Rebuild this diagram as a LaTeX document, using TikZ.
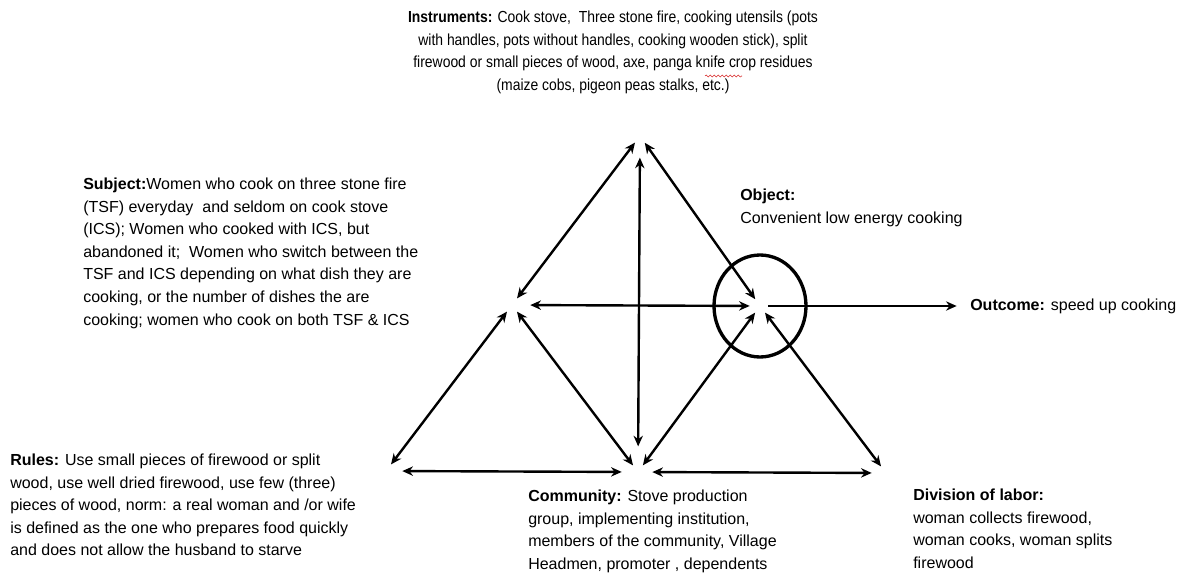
\documentclass[tikz,border=0pt]{standalone}
\usepackage{fontspec}
\setmainfont{Liberation Sans}
\newfontfamily\narrowfont[FakeStretch=0.87]{Liberation Sans}
\usepackage{tikz}
\usetikzlibrary{arrows.meta, positioning, calc, decorations.pathmorphing}
\definecolor{mydark}{RGB}{0,0,0}
\definecolor{myred}{RGB}{215,40,40}
\tikzset{
  vertex/.style={circle, minimum size=12pt, inner sep=0pt},
  notetext/.style={inner sep=0pt, anchor=north west, align=left, text=mydark, font=\fontsize{12}{16.9}\selectfont},
  biarrow/.style={{Stealth[length=8pt,width=7pt]}-{Stealth[length=8pt,width=7pt]}, line width=1.8pt, color=mydark},
  arrow/.style={-{Stealth[length=8pt,width=7pt]}, line width=1.8pt, color=mydark}
}

\begin{document}
\begin{tikzpicture}[x=0.75pt, y=-0.75pt]
  \useasboundingbox (0,0) rectangle (1195,588);

  % Corners of the triangles
  \node[vertex] (instr) at (640,136) {};
  \node[vertex] (subj) at (512,305) {};
  \node[vertex] (obj) at (760,306) {};
  \node[vertex] (rules) at (386,471) {};
  \node[vertex] (comm) at (638,472) {};
  \node[vertex] (div) at (886,473) {};

  % Texts
  \node[notetext, anchor=north, align=center, font=\narrowfont\fontsize{12}{16.9}\selectfont] (instrtxt) at (613,11) {\textbf{Instruments:} Cook stove,\ \ Three stone fire, cooking utensils (pots\\with handles, pots without handles, cooking wooden stick), split\\firewood or small pieces of wood, axe, panga knife crop residues\\(maize cobs, pigeon peas stalks, etc.)};
  \node[notetext] (subjtxt) at (83,178) {\textbf{Subject:}Women who cook on three stone fire\\(TSF) everyday\ \ and seldom on cook stove\\(ICS); Women who cooked with ICS, but\\abandoned it;\ \ Women who switch between the\\TSF and ICS depending on what dish they are\\cooking, or the number of dishes the are\\cooking; women who cook on both TSF \& ICS};
  \node[notetext] (objtxt) at (740,189) {\textbf{Object:}\\Convenient low energy cooking};
  \node[notetext] (outtxt) at (970,299) {\textbf{Outcome:} speed up cooking};
  \node[notetext] (rulestxt) at (10,454) {\textbf{Rules:} Use small pieces of firewood or split\\wood, use well dried firewood, use few (three)\\pieces of wood, norm: a real woman and /or wife\\is defined as the one who prepares food quickly\\and does not allow the husband to starve};
  \node[notetext] (commtxt) at (528,490) {\textbf{Community:} Stove production\\group, implementing institution,\\members of the community, Village\\Headmen, promoter , dependents};
  \node[notetext] (divtxt) at (913,489) {\textbf{Division of labor:}\\woman collects firewood,\\woman cooks, woman splits\\firewood};

  % Spell check mark under panga
  \draw[myred, thin, decorate, decoration={snake, segment length=3pt, amplitude=0.8pt}] (705,76) -- (742,76);

  % Upper triangle
  \draw[biarrow] (instr) -- (subj);
  \draw[biarrow] (instr) -- (obj);
  \draw[biarrow, shorten <=7.5pt, shorten >=1.5pt] (subj) -- (obj);

  % Lower triangles
  \draw[biarrow] (subj) -- (rules);
  \draw[biarrow] (subj) -- (comm);
  \draw[biarrow] (obj) -- (comm);
  \draw[biarrow] (obj) -- (div);
  \draw[biarrow, shorten <=6pt, shorten >=6pt] (rules) -- (comm);
  \draw[biarrow, shorten <=4.5pt, shorten >=4.5pt] (comm) -- (div);

  % Instruments to community
  \draw[biarrow, shorten <=10pt, shorten >=13pt] (instr) -- (comm);

  % Object circle and outcome
  \draw[line width=2.5pt, mydark] (obj) ellipse [x radius=46, y radius=51];
  \draw[arrow, shorten >=10pt] (obj) -- (obj -| outtxt.west);
\end{tikzpicture}
\end{document}
